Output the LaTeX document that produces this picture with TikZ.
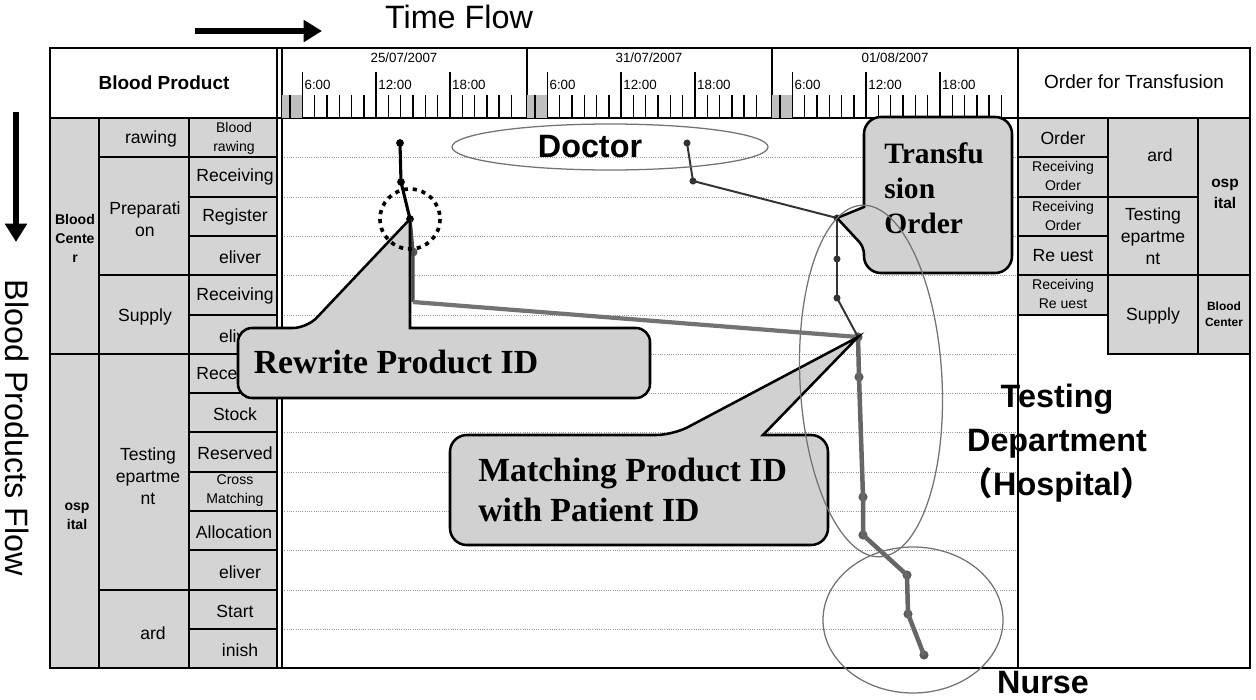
\documentclass[tikz,border=0pt]{standalone}
\usepackage{fontspec}
\setmainfont{Liberation Sans}
\newfontfamily\calloutfont{Liberation Serif}
\newfontfamily\cjk{Noto Sans CJK JP}
\usetikzlibrary{arrows.meta}

\tikzset{
  cell/.style={draw=black,line width=0.9pt,fill=black!17},
  lab/.style={font=\fontsize{12.5}{15.5}\selectfont,inner sep=0pt,align=center},
  labs/.style={font=\fontsize{10}{13.5}\selectfont,inner sep=0pt,align=center},
  labb/.style={font=\bfseries\fontsize{10}{13.5}\selectfont,inner sep=0pt,align=center},
  headtxt/.style={font=\fontsize{13.5}{15}\selectfont,inner sep=0pt},
  ticktxt/.style={font=\fontsize{9.5}{11}\selectfont,inner sep=0pt},
  gridline/.style={black!40,densely dotted,line width=0.6pt},
  bubble/.style={draw=black,line width=1.8pt,fill=black!18},
  bubtxt/.style={font=\calloutfont\bfseries\fontsize{24}{28.5}\selectfont,inner sep=0pt,align=left},
  bigtxt/.style={font=\bfseries\fontsize{23}{31.5}\selectfont,inner sep=0pt,align=center},
  flowtxt/.style={font=\fontsize{23}{26}\selectfont,inner sep=0pt},
  pdot/.style={circle,fill=black,inner sep=0pt,minimum size=5.5pt},
  ddot/.style={circle,fill=black!80,inner sep=0pt,minimum size=5pt},
  gdot/.style={circle,fill=black!65,inner sep=0pt,minimum size=6.5pt},
  ring/.style={black!55,line width=0.9pt},
}

\begin{document}
\begin{tikzpicture}[x=0.025cm,y=-0.025cm]
\useasboundingbox (0,0) rectangle (1256,699);

% dotted rows of the time chart
\foreach \r in {157,197,236,275,315,354,393,432,472,511,550,590,629}
  \draw[gridline] (282,\r) -- (1018,\r);

% blood product table
\draw[line width=0.9pt,fill=white] (50,48) rectangle (277,118);
\node[headtxt,font=\bfseries\fontsize{13.5}{15}\selectfont] (bprod) at (164,83) {Blood Product};
\draw[cell] (50,118) rectangle (99,354);
\node[labb] (bcenter) at (75,238) {Blood\\Cente\\r};
\draw[cell] (50,354) rectangle (99,668);
\node[labb] (hosp) at (77,516) {osp\\ital};
\draw[cell] (99,118) rectangle (189,157);
\node[lab] (drawing) at (151,139) {rawing};
\draw[cell] (99,157) rectangle (189,275);
\node[lab] (prep) at (145,219) {Preparati\\on};
\draw[cell] (99,275) rectangle (189,354);
\node[lab] (supply) at (145,317) {Supply};
\draw[cell] (99,354) rectangle (189,590);
\node[lab] (testdep) at (148,476) {Testing\\epartme\\nt};
\draw[cell] (99,590) rectangle (189,668);
\node[lab] (ward) at (153,633) {ard};
\draw[cell] (189,118) rectangle (277,157);
\node[labs] (bdraw) at (234,138) {Blood\\rawing};
\draw[cell] (189,157) rectangle (277,197);
\node[lab] (recv1) at (235,177) {Receiving};
\draw[cell] (189,197) rectangle (277,236);
\node[lab] (regist) at (235,217) {Register};
\draw[cell] (189,236) rectangle (277,275);
\node[lab] (deliv1) at (240,257) {eliver};
\draw[cell] (189,275) rectangle (277,315);
\node[lab] (recv2) at (235,296) {Receiving};
\draw[cell] (189,315) rectangle (277,354);
\node[lab] (deliv2) at (240,336) {eliver};
\draw[cell] (189,354) rectangle (277,393);
\node[lab] (recv3) at (235,375) {Receiving};
\draw[cell] (189,393) rectangle (277,432);
\node[lab] (stock) at (235,414) {Stock};
\draw[cell] (189,432) rectangle (277,472);
\node[lab] (reserv) at (235,453) {Reserved};
\draw[cell] (189,472) rectangle (277,511);
\node[labs] (cross) at (235,491) {Cross\\Matching};
\draw[cell] (189,511) rectangle (277,550);
\node[lab] (alloc) at (234,532) {Allocation};
\draw[cell] (189,550) rectangle (277,590);
\node[lab] (deliv3) at (240,572) {eliver};
\draw[cell] (189,590) rectangle (277,629);
\node[lab] (start) at (235,611) {Start};
\draw[cell] (189,629) rectangle (277,668);
\node[lab] (finish) at (240,650) {inish};

% order table
\node[headtxt] (order) at (1134,82) {Order for Transfusion};
\draw[cell] (1018,118) rectangle (1108,157);
\node[lab] (ord) at (1063,138) {Order};
\draw[cell] (1018,157) rectangle (1108,197);
\node[labs] (rord1) at (1063,176) {Receiving\\Order};
\draw[cell] (1018,197) rectangle (1108,236);
\node[labs] (rord2) at (1063,216) {Receiving\\Order};
\draw[cell] (1018,236) rectangle (1108,275);
\node[lab] (req) at (1063,256) {Re uest};
\draw[cell] (1018,275) rectangle (1108,315);
\node[labs] (rreq) at (1063,294) {Receiving\\Re uest};
\draw[cell] (1108,118) rectangle (1198,197);
\node[lab] (ward2) at (1160,155) {ard};
\draw[cell] (1108,197) rectangle (1198,275);
\node[lab] (testdep2) at (1153,236) {Testing\\epartme\\nt};
\draw[cell] (1108,275) rectangle (1198,354);
\node[lab] (supply2) at (1153,316) {Supply};
\draw[cell] (1198,118) rectangle (1250,275);
\node[labb,font=\bfseries\fontsize{11}{15}\selectfont] (hosp2) at (1225,194) {osp\\ital};
\draw[cell] (1198,275) rectangle (1250,354);
\node[labb,font=\bfseries\fontsize{8.5}{11}\selectfont] (bcenter2) at (1224,314) {Blood\\Center};

% frame
\draw[line width=1.3pt] (50,48) rectangle (1250,668);
\draw[line width=1.3pt] (50,118) -- (1250,118);
\draw[line width=1.1pt] (277,48) -- (277,668);
\draw[line width=1.1pt] (282,48) -- (282,668);
\draw[line width=1.1pt] (1018,48) -- (1018,668);
\draw[line width=1.1pt] (527,48) -- (527,118);
\draw[line width=1.1pt] (772,48) -- (772,118);

% time axis
\node[ticktxt] (day1) at (404,58) {25/07/2007};
\node[ticktxt] (day2) at (649,58) {31/07/2007};
\node[ticktxt] (day3) at (895,58) {01/08/2007};
\foreach \s in {282,527,772}{
  \fill[black!25] (\s,95) rectangle ({\s+20},118);
  \foreach \k in {0,...,18}
    \draw[line width=1pt] ({\s+8+12.3*\k},95) -- ({\s+8+12.3*\k},118);
  \foreach \k/\t in {1/6:00,7/12:00,13/18:00}{
    \draw[line width=1pt] ({\s+8+12.3*\k},72) -- ({\s+8+12.3*\k},95);
    \node[ticktxt,anchor=west] (h\s-\k) at ({\s+10+12.3*\k},85) {\t};
  }
}

% product trail
\node[pdot] (p1) at (400,143) {};
\node[pdot] (p2) at (401,182) {};
\node[pdot] (p3) at (410,219) {};
\node[gdot] (p4) at (413,252) {};
\coordinate (bend) at (413,302);
% doctor / nurse trail
\node[ddot] (d1) at (687,143) {};
\node[ddot] (d2) at (693,181) {};
\node[ddot] (d3) at (837,218) {};
\node[ddot] (d4) at (837,259) {};
\node[ddot] (d5) at (837,298) {};
\node[gdot] (d6) at (858,337) {};
\node[gdot] (d7) at (859,377) {};
\node[gdot] (d8) at (863,497) {};
\node[gdot] (d9) at (863,535) {};
\node[gdot] (d10) at (907,575) {};
\node[gdot] (d11) at (908,614) {};
\node[gdot] (d12) at (924,655) {};

\draw[line width=2.2pt] (p1.center) -- (p2.center) -- (p3.center);
\draw[line width=2.4pt,black!70] (p3.center) -- (p4.center) -- (bend);
\draw[line width=3pt,black!55] (bend) -- (d6.center);
\draw[line width=1.4pt,black!80] (d1.center) -- (d2.center) -- (d3.center)
  -- (d4.center) -- (d5.center) -- (d6.center);
\draw[line width=3.2pt,black!60,line join=round] (d6.center) -- (d7.center)
  -- (d8.center) -- (d9.center) -- (d10.center) -- (d11.center) -- (d12.center);

% call-outs
\draw[bubble] (238,363) [rounded corners=10pt] -- (238,328) -- (307,328)
  [sharp corners] -- (p3.center) -- (410,328)
  [rounded corners=10pt] -- (650,328) -- (650,398) -- (238,398) -- cycle;
\node[bubtxt] (rewrite) at (396,362) {Rewrite Product ID};

\draw[bubble] (450,490) [rounded corners=12pt] -- (450,435) -- (673,435)
  [sharp corners] -- (d6.center) -- (763,435)
  [rounded corners=12pt] -- (828,435) -- (828,545) -- (450,545) -- cycle;
\node[bubtxt,anchor=west] (match) at (478,490) {Matching Product ID\\with Patient ID};

\draw[bubble] (938,117) [rounded corners=12pt] -- (1012,117) -- (1012,273)
  -- (864,273) [rounded corners=5pt] -- (864,247)
  [sharp corners] -- (d3.center) -- (864,207)
  [rounded corners=12pt] -- (864,117) -- cycle;
\node[bubtxt,font=\calloutfont\bfseries\fontsize{21}{25}\selectfont,anchor=west]
  (order2) at (884,188) {Transfu\\sion\\Order};

\draw[line width=2.6pt,dash pattern=on 3pt off 3.4pt] (p3.center) circle [radius=30];

% actors
\draw[ring] (610,147) ellipse [x radius=158, y radius=23];
\draw[ring,rotate around={3:(871,381)}] (871,381) ellipse [x radius=71, y radius=176];
\draw[ring] (913,620) ellipse [x radius=90, y radius=73];
\node[bigtxt] (doctor) at (590,147) {Doctor};
\node[bigtxt] (testing) at (1057,443) {Testing\\Department\\{\cjk （}Hospital{\cjk ）}};
\node[bigtxt] (nurse) at (1043,683) {Nurse};

% flow directions
\coordinate (tf0) at (195,31);
\coordinate (tf1) at (322,31);
\draw[line width=4.5pt,-{Triangle[length=13pt,width=15pt]}] (tf0) -- (tf1);
\node[flowtxt] (tflow) at (459,17) {Time Flow};
\coordinate (bf0) at (16,112);
\coordinate (bf1) at (16,242);
\draw[line width=4.5pt,-{Triangle[length=13pt,width=15pt]}] (bf0) -- (bf1);
\node[flowtxt,rotate=-90] (bflow) at (17,428) {Blood Products Flow};
\end{tikzpicture}
\end{document}
